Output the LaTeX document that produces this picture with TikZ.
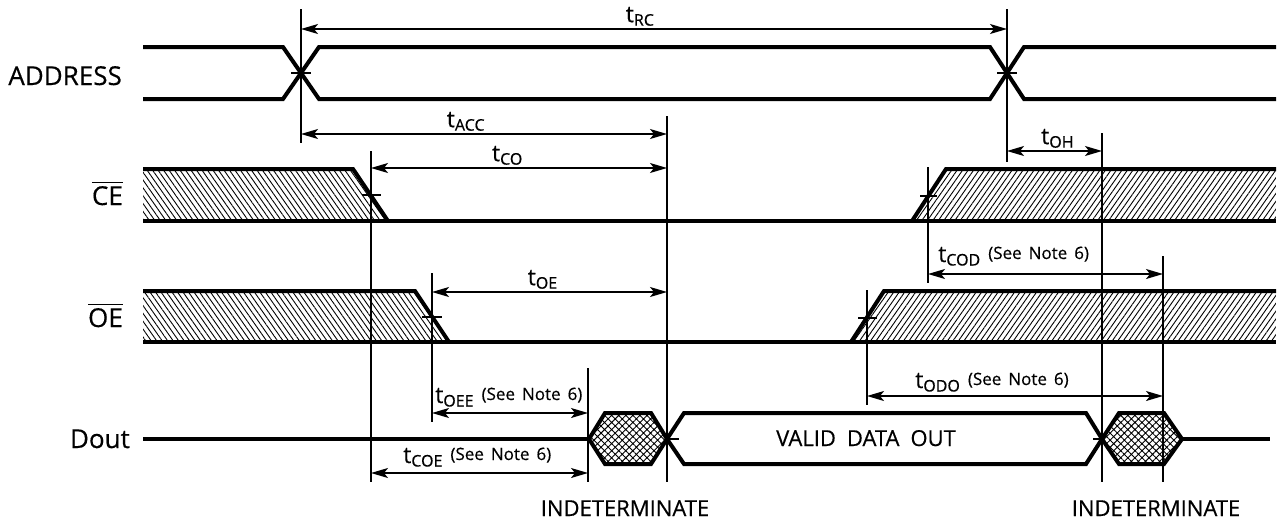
\documentclass[tikz,border=0pt]{standalone}
\usepackage{amsmath}
\usepackage{fontspec}
\setmainfont{Open Sans}[FakeBold=0.4]
\usepackage{tikz}
\usetikzlibrary{arrows.meta, patterns.meta}

\newcommand\tlbl[1]{t\raisebox{-3.5pt}{\fontsize{16}{16}\selectfont #1}}
\newcommand\seenote{\hspace{8pt}\raisebox{3pt}{\fontsize{17}{17}\selectfont (See\hspace{7pt}Note\hspace{7pt}6)}}

\begin{document}
\begin{tikzpicture}[x=1pt,y=-1pt,
  sig/.style={line width=4pt},
  guide/.style={line width=1.5pt},
  dim/.style={line width=1.4pt,>={Stealth[length=17pt,width=10pt,inset=4pt]},<->},
  lbl/.style={font=\fontsize{26}{30}\selectfont,inner sep=0pt},
  txt/.style={font=\fontsize{22}{26}\selectfont,inner sep=0pt},
  tlab/.style={font=\fontsize{23}{26}\selectfont,inner sep=2.5pt},
  hatchL/.style={pattern={Lines[angle=-55,distance=4.5pt,line width=.9pt]}},
  hatchR/.style={pattern={Lines[angle=55,distance=4.5pt,line width=.9pt]}},
  xhatch/.style={pattern={Hatch[angle=45,distance=5pt,line width=.9pt]}}]
\useasboundingbox (0,0) rectangle (1277,525);

% signal names
\node[lbl,anchor=base east] (addr) at (122,85) {ADDRESS};
\node[lbl,anchor=base east] (ce) at (123,205) {$\overline{\text{CE}}$};
\node[lbl,anchor=base east] (oe) at (123,327) {$\overline{\text{OE}}$};
\node[lbl,anchor=base east] (dout) at (130,448) {Dout};

% don't care parts
\fill[hatchL] (143,169) -- (353,169) -- (388,221) -- (143,221) -- cycle;
\fill[hatchR] (912,221) -- (946,169) -- (1276,169) -- (1276,221) -- cycle;
\fill[hatchL] (143,291) -- (415,291) -- (449,342) -- (143,342) -- cycle;
\fill[hatchR] (851,342) -- (884,291) -- (1276,291) -- (1276,342) -- cycle;

% ADDRESS
\draw[sig] (143,47) -- (283,47) -- (319,99) -- (990,99) -- (1024,47) -- (1276,47);
\draw[sig] (143,99) -- (283,99) -- (319,47) -- (990,47) -- (1024,99) -- (1276,99);
% CE
\draw[sig] (143,169) -- (353,169) -- (388,221);
\draw[sig] (912,221) -- (946,169) -- (1276,169);
\draw[sig] (143,221) -- (1276,221);
% OE
\draw[sig] (143,291) -- (415,291) -- (449,342);
\draw[sig] (851,342) -- (884,291) -- (1276,291);
\draw[sig] (143,342) -- (1276,342);
% Dout
\draw[sig] (143,439) -- (589,439);
\draw[sig,xhatch] (589,439) -- (605,413) -- (651,413) -- (667,439) -- (651,464) -- (605,464) -- cycle;
\draw[sig] (667,439) -- (684,413) -- (1086,413) -- (1102,439) -- (1086,464) -- (684,464) -- cycle;
\draw[sig,xhatch] (1102,439) -- (1119,413) -- (1164,413) -- (1182,439) -- (1164,464) -- (1119,464) -- cycle;
\draw[sig] (1182,439) -- (1270,439);

% reference lines
\draw[guide] (301,9) -- (301,143);
\draw[guide] (371,151) -- (371,482);
\draw[guide] (432,273) -- (432,422);
\draw[guide] (588,368) -- (588,482);
\draw[guide] (667,116) -- (667,482);
\draw[guide] (867,290) -- (867,405);
\draw[guide] (928,167) -- (928,283);
\draw[guide] (1007,9) -- (1007,162);
\draw[guide] (1102,133) -- (1102,482);
\draw[guide] (1163,256) -- (1163,482);

% ticks
\draw[guide] (291,73) -- (311,73);
\draw[guide] (997,73) -- (1017,73);
\draw[guide] (362,195) -- (381,195);
\draw[guide] (920,196) -- (937,196);
\draw[guide] (422,317) -- (442,317);
\draw[guide] (858,318) -- (877,318);
\draw[guide] (667,439) -- (679,439);
\draw[guide] (1093,439) -- (1102,439);

% timing arrows
\coordinate (rc1) at (301,29);   \coordinate (rc2) at (1007,29);
\coordinate (acc1) at (301,134); \coordinate (acc2) at (667,134);
\coordinate (co1) at (371,168);  \coordinate (co2) at (667,168);
\coordinate (oh1) at (1007,151); \coordinate (oh2) at (1102,151);
\coordinate (cod1) at (928,274); \coordinate (cod2) at (1163,274);
\coordinate (oe1) at (432,292);  \coordinate (oe2) at (667,292);
\coordinate (odo1) at (867,396); \coordinate (odo2) at (1163,396);
\coordinate (oee1) at (432,413); \coordinate (oee2) at (588,413);
\coordinate (coe1) at (371,473); \coordinate (coe2) at (588,473);

\draw[dim] (rc1) -- (rc2) node[tlab,pos=.48,above] (trc) {\tlbl{RC}};
\draw[dim] (acc1) -- (acc2) node[tlab,pos=.45,above] (tacc) {\tlbl{ACC}};
\draw[dim] (co1) -- (co2) node[tlab,pos=.46,above] (tco) {\tlbl{CO}};
\draw[dim] (oh1) -- (oh2) node[tlab,pos=.53,above] (toh) {\tlbl{OH}};
\draw[dim] (oe1) -- (oe2) node[tlab,pos=.47,above] (toe) {\tlbl{OE}};
\draw[dim] (cod1) -- (cod2);
\draw[dim] (odo1) -- (odo2);
\draw[dim] (oee1) -- (oee2);
\draw[dim] (coe1) -- (coe2);

\node[tlab,anchor=base west,inner sep=0pt] (tcod) at (938,262) {\tlbl{COD}\seenote};
\node[tlab,anchor=base west,inner sep=0pt] (todo) at (915,388) {\tlbl{ODO}\seenote};
\node[tlab,anchor=base west,inner sep=0pt] (toee) at (435,403) {\tlbl{OEE}\seenote};
\node[tlab,anchor=base west,inner sep=0pt] (tcoe) at (403,463) {\tlbl{COE}\seenote};

% bus texts
\node[txt,anchor=base] (valid) at (866,446) {VALID\hspace{11pt}DATA\hspace{11pt}OUT};
\node[txt,anchor=base] (ind1) at (625,516) {INDETERMINATE};
\node[txt,anchor=base] (ind2) at (1156,516) {INDETERMINATE};
\end{tikzpicture}
\end{document}
